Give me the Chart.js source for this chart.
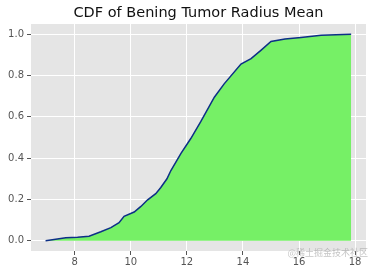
<!DOCTYPE html>
<html>
<head>
<meta charset="utf-8">
<script src="https://cdn.jsdelivr.net/npm/chart.js@4"></script>
<style>
  html, body { margin: 0; padding: 0; background: #fff; }
  #wrap { width: 372px; height: 265px; }
</style>
</head>
<body>
<div id="wrap"><canvas id="cdf-chart"></canvas></div>
<script>
"use strict";

const radiusMean = [6.96, 7.68, 8.1, 8.51, 8.93, 9.29, 9.58, 9.76, 10.12, 10.36, 10.6, 10.89, 11.07, 11.29, 11.43, 11.79, 12.14, 12.5, 12.98, 13.33, 13.93, 14.29, 14.64, 15.0, 15.5, 16.07, 16.79, 17.86];
const cdfValues = [0, 0.014, 0.017, 0.022, 0.043, 0.063, 0.087, 0.118, 0.139, 0.166, 0.198, 0.228, 0.258, 0.3, 0.34, 0.423, 0.495, 0.578, 0.695, 0.76, 0.856, 0.882, 0.922, 0.965, 0.977, 0.984, 0.995, 1.0];
const xTicks = [8, 10, 12, 14, 16, 18];
const yTicks = [0, 0.2, 0.4, 0.6, 0.8, 1.0];
const titleText = "CDF of Bening Tumor Radius Mean";

const points = [];
for (let i = 0; i < radiusMean.length; i++) {
  points.push({ x: radiusMean[i], y: cdfValues[i] });
}

// grey ggplot panel, title centred over the axes, watermark
const panelBackground = {
  id: "panelBackground",
  beforeDraw(chart) {
    const { ctx, chartArea } = chart;
    ctx.save();
    ctx.fillStyle = "#e5e5e5";
    ctx.fillRect(chartArea.left, chartArea.top, chartArea.right - chartArea.left, chartArea.bottom - chartArea.top);
    ctx.restore();
  },
  afterDraw(chart) {
    const { ctx, chartArea } = chart;
    ctx.save();
    ctx.fillStyle = "#111";
    ctx.font = "14.5px 'DejaVu Sans'";
    ctx.textAlign = "center";
    ctx.textBaseline = "middle";
    ctx.fillText(titleText, (chartArea.left + chartArea.right) / 2, 13);

    ctx.fillStyle = "rgba(150,150,150,0.55)";
    ctx.font = "9px 'Noto Sans CJK SC'";
    ctx.textAlign = "right";
    ctx.fillText("@稀土掘金技术社区", 368, 253);
    ctx.restore();
  },
};

const cdfChart = new Chart(document.getElementById("cdf-chart"), {
  type: "line",
  data: {
    datasets: [
      {
        label: "line",
        data: points,
        borderColor: "#0c2f86",
        borderWidth: 1.5,
        pointRadius: 0,
        fill: false,
        tension: 0,
        order: 0,
      },
      {
        label: "hist",
        data: points,
        borderWidth: 0,
        borderColor: "rgba(0,0,0,0)",
        backgroundColor: "#76f066",
        pointRadius: 0,
        fill: "origin",
        tension: 0,
        order: 1,
      },
    ],
  },
  options: {
    responsive: true,
    maintainAspectRatio: false,
    animation: false,
    layout: { padding: { left: 0, right: 6, top: 24, bottom: 0 } },
    plugins: {
      legend: { display: false },
      tooltip: { enabled: false },
      title: { display: false },
    },
    scales: {
      x: {
        type: "linear",
        min: 6.44,
        max: 18.39,
        afterBuildTicks(scale) {
          scale.ticks = xTicks.map((v) => ({ value: v }));
        },
        afterFit(scale) {
          scale.height = 14;
        },
        grid: { color: "#fff", lineWidth: 1, tickColor: "#555", tickLength: 4 },
        border: { display: false },
        ticks: {
          color: "#555",
          padding: 1,
          maxRotation: 0,
          font: { family: "DejaVu Sans", size: 10 },
          callback: (v) => v,
        },
      },
      y: {
        type: "linear",
        min: -0.05,
        max: 1.05,
        afterBuildTicks(scale) {
          scale.ticks = yTicks.map((v) => ({ value: v }));
        },
        afterFit(scale) {
          scale.width = 31;
        },
        grid: { color: "#fff", lineWidth: 1, tickColor: "#555", tickLength: 4 },
        border: { display: false },
        ticks: {
          color: "#555",
          padding: 3,
          font: { family: "DejaVu Sans", size: 10 },
          callback: (v) => v.toFixed(1),
        },
      },
    },
  },
  plugins: [panelBackground],
});
</script>
</body>
</html>
